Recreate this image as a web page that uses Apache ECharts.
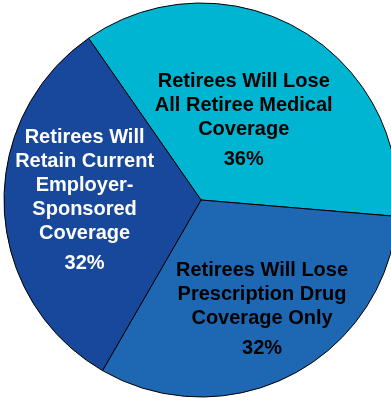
<!DOCTYPE html>
<html>
<head>
<meta charset="utf-8">
<script src="https://cdn.jsdelivr.net/npm/echarts@6/dist/echarts.min.js"></script>
<style>
  html, body { margin: 0; padding: 0; background: #ffffff; }
  #chart { width: 391px; height: 400px; }
</style>
</head>
<body>
<div id="chart"></div>
<script>
// Retiree coverage outcomes
const categories = [
  'Retirees Will Lose\nAll Retiree Medical\nCoverage',
  'Retirees Will Lose\nPrescription Drug\nCoverage Only',
  'Retirees Will\nRetain Current\nEmployer-\nSponsored\nCoverage'
];
const values = [36, 32, 32];
const sliceColors = ['#00B5D1', '#1E68B3', '#17489B'];
const labelColors = ['#000000', '#000000', '#ffffff'];
// label nudges from the default inside position
const labelShift = [[-8, 11], [14, 23], [-15, -1]];

const chart = echarts.init(document.getElementById('chart'), null, { renderer: 'canvas' });

const data = categories.map((name, i) => ({
  name: name,
  value: values[i],
  itemStyle: { color: sliceColors[i] },
  label: {
    rich: {
      n: { color: labelColors[i], fontSize: 20, fontWeight: 'bold', fontFamily: 'Liberation Sans, Arial, sans-serif', lineHeight: 24, align: 'center' },
      p: { color: labelColors[i], fontSize: 20, fontWeight: 'bold', fontFamily: 'Liberation Sans, Arial, sans-serif', lineHeight: 36, align: 'center' }
    }
  }
}));

chart.setOption({
  animation: false,
  series: [{
    type: 'pie',
    center: [201, 200],
    radius: 197,
    startAngle: 124.8,
    clockwise: true,
    data: data,
    itemStyle: { borderColor: '#000000', borderWidth: 1 },
    label: {
      show: true,
      position: 'inside',
      align: 'center',
      formatter: p => '{n|' + p.name + '}\n{p|' + p.value + '%}'
    },
    labelLine: { show: false },
    labelLayout: params => {
      const s = labelShift[params.dataIndex];
      return { dx: s[0], dy: s[1] };
    },
    emphasis: { disabled: true }
  }]
});
</script>
</body>
</html>
